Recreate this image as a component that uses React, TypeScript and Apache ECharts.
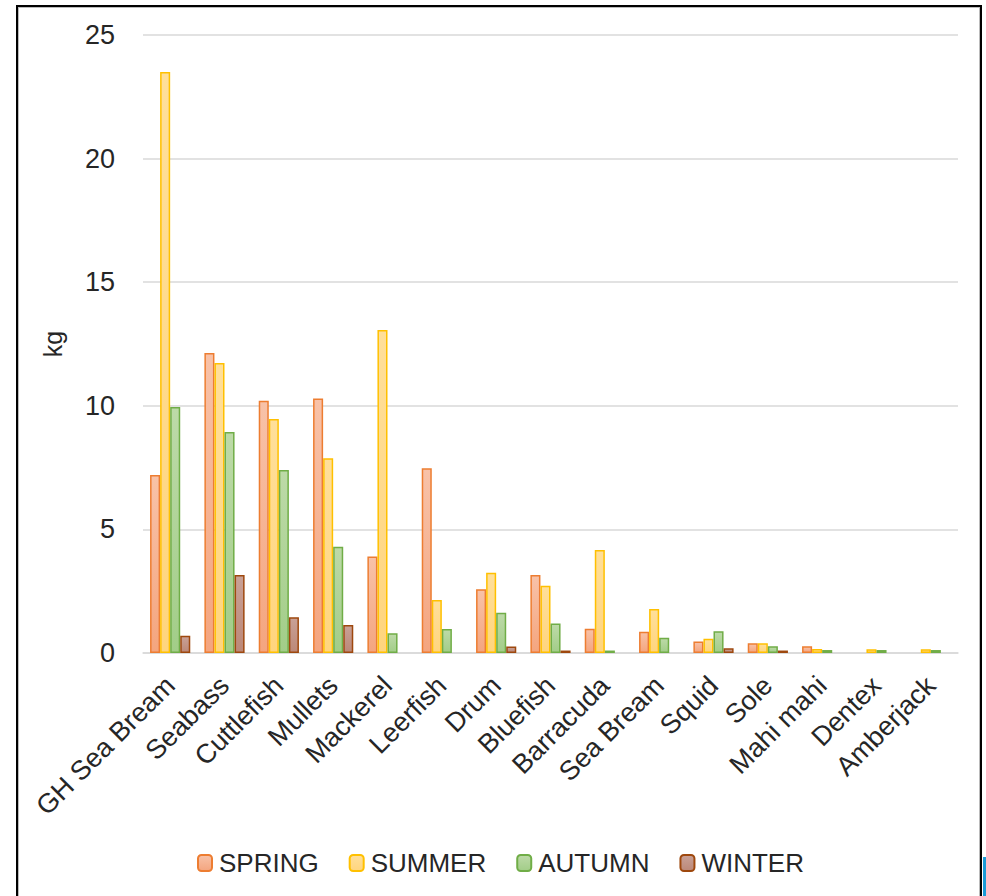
import React, { useEffect, useRef } from "react";
import * as echarts from "echarts";

const categories = [
  "GH Sea Bream", "Seabass", "Cuttlefish", "Mullets", "Mackerel", "Leerfish", "Drum",
  "Bluefish", "Barracuda", "Sea Bream", "Squid", "Sole", "Mahi mahi", "Dentex", "Amberjack",
];
const spring = [7.2, 12.14, 10.2, 10.3, 3.9, 7.47, 2.58, 3.16, 0.98, 0.86, 0.47, 0.39, 0.27, null, null];
const summer = [23.5, 11.73, 9.47, 7.88, 13.07, 2.14, 3.25, 2.72, 4.17, 1.78, 0.58, 0.39, 0.16, 0.15, 0.15];
const autumn = [9.95, 8.94, 7.4, 4.3, 0.8, 0.97, 1.63, 1.19, 0.1, 0.62, 0.88, 0.27, 0.12, 0.12, 0.12];
const winter = [0.7, 3.16, 1.45, 1.13, null, null, 0.26, 0.1, null, null, 0.19, 0.1, null, null, null];
const seriesNames = ["SPRING", "SUMMER", "AUTUMN", "WINTER"];
const yTicks = { min: 0, max: 25, interval: 5 };

const FONT = "'Liberation Sans', Arial, sans-serif";

function grad(top: string, bottom: string) {
  return new echarts.graphic.LinearGradient(0, 0, 0, 1, [
    { offset: 0, color: top },
    { offset: 1, color: bottom },
  ]);
}

export default function App() {
  const ref = useRef<HTMLDivElement>(null);
  useEffect(() => {
    if (!ref.current) return;
    const chart = echarts.init(ref.current, undefined, { renderer: "svg" });
    const styles = [
      { fill: grad("#F8C2A8", "#F4A57F"), border: "#ED7D31" },
      { fill: grad("#FFDF9A", "#FFD57E"), border: "#FFC000" },
      { fill: grad("#BDDAA8", "#A2CD88"), border: "#70AD47" },
      { fill: grad("#C9A197", "#BC8878"), border: "#9E480E" },
    ];
    const data = [spring, summer, autumn, winter];
    chart.setOption({
      animation: false,
      backgroundColor: "transparent",
      textStyle: { fontFamily: FONT },
      grid: { left: 143, right: 28, top: 35, bottom: 243, containLabel: false },
      legend: {
        bottom: 15,
        left: 192,
        itemWidth: 14,
        itemHeight: 16,
        itemGap: 30,
        textStyle: { fontSize: 26, color: "#262626", fontFamily: FONT, padding: [0, 0, 0, 2] },
        data: seriesNames,
      },
      xAxis: {
        type: "category",
        data: categories,
        axisLine: { lineStyle: { color: "#D9D9D9", width: 1.5 } },
        axisTick: { show: false },
        axisLabel: {
          rotate: 45,
          interval: 0,
          fontSize: 27,
          color: "#262626",
          margin: 28,
          fontFamily: FONT,
        },
      },
      yAxis: {
        type: "value",
        min: yTicks.min,
        max: yTicks.max,
        interval: yTicks.interval,
        name: "kg",
        nameLocation: "middle",
        nameGap: 78,
        nameRotate: 90,
        nameTextStyle: { fontSize: 25, color: "#262626", fontFamily: FONT },
        axisLine: { show: false },
        axisTick: { show: false },
        splitLine: { lineStyle: { color: "#D9D9D9", width: 1.5 } },
        axisLabel: { fontSize: 27, color: "#262626", margin: 28, fontFamily: FONT },
      },
      series: seriesNames.map((name, i) => ({
        name,
        type: "bar",
        data: data[i],
        barGap: "0%",
        barCategoryGap: "26%",
        itemStyle: { color: styles[i].fill, borderColor: styles[i].border, borderWidth: 1.5 },
      })),
    });
    return () => chart.dispose();
  }, []);

  return (
    <div style={{ position: "fixed", left: 0, top: 0, width: 986, height: 896, background: "#fff", overflow: "hidden" }}>
      <div
        style={{
          position: "absolute",
          left: 16,
          top: 5,
          width: 962,
          height: 960,
          border: "2px solid #000",
          boxShadow: "inset 1px 1px 0 #bbb, inset -1px 0 0 #bbb",
          pointerEvents: "none",
        }}
      />
      <div style={{ position: "absolute", left: 983, top: 857, width: 3, height: 39, background: "#1A9BD7" }} />
      <div ref={ref} style={{ position: "absolute", left: 0, top: 0, width: 986, height: 896 }} />
    </div>
  );
}
